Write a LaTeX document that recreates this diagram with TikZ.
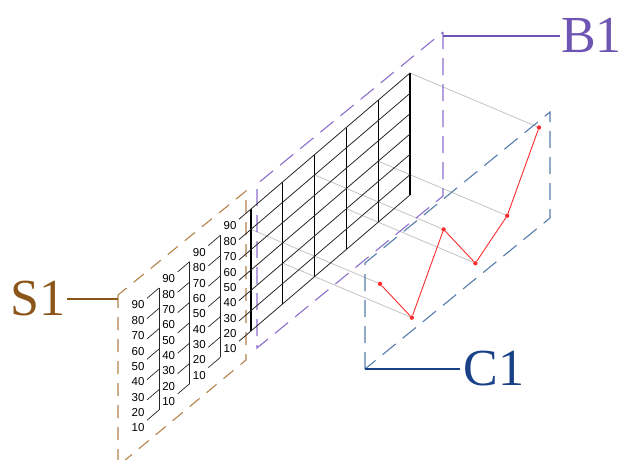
\documentclass[tikz,border=0pt]{standalone}
\usepackage{fontspec}
\setmainfont{Liberation Serif}
\newfontfamily\lblfont{Liberation Sans}
\definecolor{sbrown}{RGB}{180,130,75}
\definecolor{stext}{RGB}{140,85,25}
\definecolor{bpurple}{RGB}{140,110,205}
\definecolor{btext}{RGB}{110,85,180}
\definecolor{cblue}{RGB}{85,125,170}
\definecolor{ctext}{RGB}{25,65,135}
\definecolor{chartred}{RGB}{250,45,45}
\definecolor{ghost}{RGB}{195,195,195}
\begin{document}
\begin{tikzpicture}[x=1pt,y=-1pt,
  sdash/.style={draw=sbrown,line width=1.1pt,dash pattern=on 13pt off 9pt},
  bdash/.style={draw=bpurple,line width=1.1pt,dash pattern=on 17pt off 9pt},
  cdash/.style={draw=cblue,line width=1.1pt,dash pattern=on 17pt off 9pt},
  gridv/.style={draw=black,line width=1.1pt},
  gridh/.style={draw=black!85,line width=0.8pt},
  tickline/.style={draw=black!85,line width=0.7pt},
  scaleline/.style={draw=black!85,line width=1pt},
  lbl/.style={font=\lblfont\fontsize{11.5}{11.5}\selectfont,inner sep=0pt},
  bigl/.style={font=\fontsize{52}{52}\selectfont,anchor=base west,inner sep=0pt},
  grayline/.style={draw=ghost,line width=0.8pt},
  redline/.style={draw=chartred,line width=0.9pt},
  dot/.style={circle,fill=chartred,inner sep=0pt,minimum size=4.4pt}]
\useasboundingbox (0,0) rectangle (623,459);

% plane corners
\coordinate (sTL) at (118,295);
\coordinate (sTR) at (246,191);
\coordinate (sBR) at (246,360);
\coordinate (sBL) at (118,466);
\coordinate (bTL) at (257,184);
\coordinate (bTR) at (443,32);
\coordinate (bBR) at (443,196);
\coordinate (bBL) at (257,348);
\coordinate (cTL) at (365,263);
\coordinate (cTR) at (550,112);
\coordinate (cBR) at (550,218);
\coordinate (cBL) at (365,369);

% grid points
\foreach \i in {0,...,5} {
  \pgfmathsetmacro\gx{251+31.8*\i}
  \pgfmathsetmacro\gy{209-27.2*\i}
  \foreach \j in {0,...,6} {
    \coordinate (g-\i-\j) at (\gx,\gy+20.33*\j);
  }
}

% chart points and gray projection lines
\foreach \i/\j in {0/1,1/4,2/1,3/4,4/3,5/0} {
  \node[dot] (p\i) at ([shift={(129,54.5)}]g-\i-\j) {};
  \draw[grayline] (g-\i-\j) -- (p\i);
}

% planes
\draw[sdash] (sTL) -- (sBL) -- (sBR) -- (sTR) -- cycle;
\draw[bdash] (bTR) -- (bBR) -- (bBL) -- (bTL) -- cycle;
\draw[cdash] (cBL) -- (cTL) -- (cTR) -- (cBR) -- cycle;

% grid
\foreach \i in {0,...,5} { \draw[gridv] (g-\i-0) -- (g-\i-6); }
\foreach \j in {0,...,6} { \draw[gridh] ([shift={(-12,10.26)}]g-0-\j) -- (g-5-\j); }

% scales
\foreach \s in {0,1,2} {
  \pgfmathsetmacro\sx{159+30.67*\s}
  \pgfmathsetmacro\sy{288-26.33*\s}
  \foreach \j in {0,...,6} {
    \coordinate (t-\s-\j) at (\sx,\sy+20.33*\j);
    \draw[tickline] ([shift={(-12,10.26)}]t-\s-\j) -- (t-\s-\j);
  }
  \draw[scaleline] (t-\s-0) -- (t-\s-6);
}
\foreach \s in {0,1,2,3} {
  \pgfmathsetmacro\sx{159+30.67*\s}
  \pgfmathsetmacro\sy{288-26.33*\s}
  \foreach \k in {0,...,8} {
    \pgfmathtruncatemacro\n{90-10*\k}
    \node[lbl] (l-\s-\k) at (\sx-21,\sy+17+15.375*\k) {\n};
  }
}

% chart
\draw[redline] (p0) -- (p1) -- (p2) -- (p3) -- (p4) -- (p5);

% labels
\node[bigl,text=stext] (S1) at (10,315) {S1};
\node[bigl,text=btext] (B1) at (561,52) {B1};
\node[bigl,text=ctext] (C1) at (463.5,385) {C1};
\coordinate (s1a) at (67,299);
\coordinate (s1b) at (118,299);
\coordinate (b1a) at (443,36);
\coordinate (b1b) at (560,36);
\coordinate (c1a) at (365,369);
\coordinate (c1b) at (460,369);
\draw[draw=stext,line width=1.3pt] (s1a) -- (s1b);
\draw[draw=btext,line width=1.2pt] (b1a) -- (b1b);
\draw[draw=ctext,line width=1.5pt] (c1a) -- (c1b);
\end{tikzpicture}
\end{document}
